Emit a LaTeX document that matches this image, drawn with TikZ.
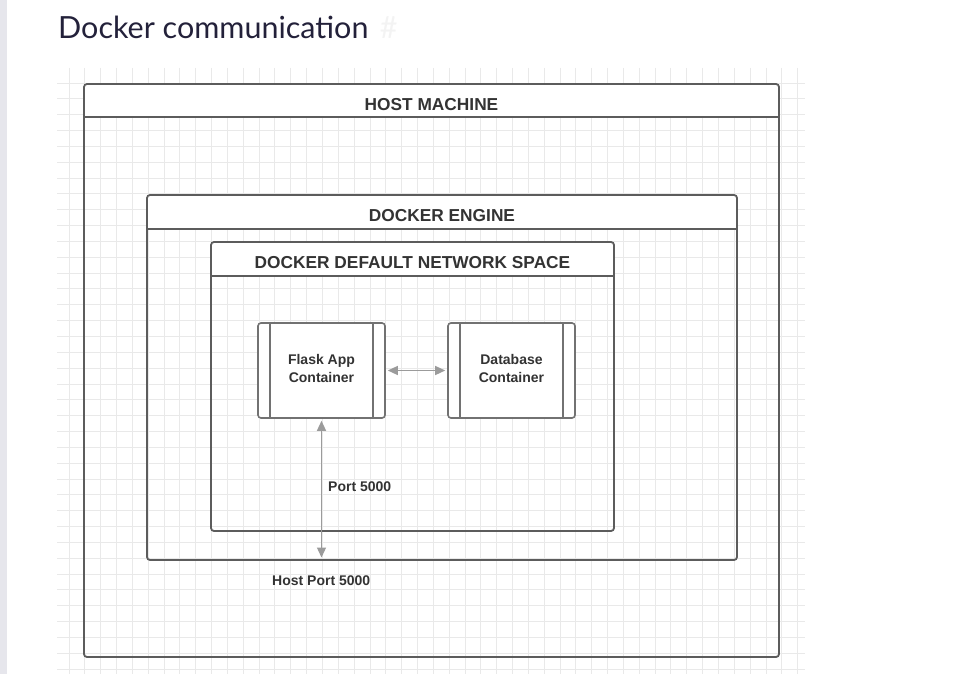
\documentclass[tikz,border=0pt]{standalone}
\usepackage{fontspec}
\setmainfont{Liberation Sans}
\newfontfamily\titlefont{Lato}
\usetikzlibrary{arrows.meta}
\definecolor{gridc}{HTML}{E9E9E9}
\definecolor{boxc}{HTML}{5C5C5C}
\definecolor{cboxc}{HTML}{727272}
\definecolor{txtc}{HTML}{333333}
\definecolor{arrc}{HTML}{9B9B9B}
\definecolor{titlec}{HTML}{23213A}
\definecolor{hashc}{HTML}{F3F3F3}
\definecolor{barc}{HTML}{E6E6EC}
\begin{document}
\begin{tikzpicture}[x=1pt,y=-1pt,
  outerbox/.style={draw=boxc, line width=1.8pt, rounded corners=3pt, inner sep=0pt},
  headline/.style={draw=boxc, line width=1.8pt},
  headtxt/.style={font=\bfseries\fontsize{17.3}{20}\selectfont, text=txtc, inner sep=0pt},
  cbox/.style={draw=cboxc, line width=1.6pt, rounded corners=3pt, fill=white, minimum width=127pt, minimum height=95pt, inner sep=0pt},
  ctxt/.style={align=center, font=\bfseries\fontsize{14}{17.5}\selectfont, text=txtc, inner sep=0pt},
  sideline/.style={draw=cboxc, line width=1.6pt},
  lbl/.style={font=\bfseries\fontsize{14}{16}\selectfont, text=txtc, inner sep=0pt, anchor=west},
  arr/.style={draw=arrc, line width=1.3pt, {Triangle[length=10pt,width=9pt]}-{Triangle[length=10pt,width=9pt]}, arrc},
]
\useasboundingbox (0,0) rectangle (974,674);
\fill[white] (0,0) rectangle (974,674);
\fill[barc] (0,0) rectangle (7,674);
% grid
\foreach \i in {0,...,46} { \draw[gridc, line width=0.9pt] ({69+15.84*\i},68) -- ({69+15.84*\i},674); }
\foreach \j in {0,...,37} { \draw[gridc, line width=0.9pt] (57,{83+15.84*\j}) -- (805,{83+15.84*\j}); }
% title
\node[anchor=base west, font=\titlefont\fontsize{30.5}{34}\selectfont, text=titlec, inner sep=0pt] (title) at (58,39) {Docker communication};
\node[anchor=base west, font=\titlefont\fontsize{30.5}{34}\selectfont, text=hashc, inner sep=0pt] (hash) at ([xshift=11pt]title.base east) {\#};
% host machine
\fill[white] (85,85) rectangle (778,117);
\node[outerbox, minimum width=695pt, minimum height=573pt] (host) at (431.5,370.5) {};
\coordinate (hostl) at (84,117); \coordinate (hostr) at (779,117);
\draw[headline] (hostl) -- (hostr);
\node[headtxt] (hostt) at (431.5,105) {HOST MACHINE};
% docker engine
\fill[white] (148,196) rectangle (736,229);
\node[outerbox, minimum width=590pt, minimum height=365pt] (engine) at (442,377.5) {};
\coordinate (engl) at (147,229); \coordinate (engr) at (737,229);
\draw[headline] (engl) -- (engr);
\node[headtxt] (enginet) at (442,216) {DOCKER ENGINE};
% network
\fill[white] (212,243) rectangle (613,276);
\node[outerbox, minimum width=403pt, minimum height=289pt] (net) at (412.5,386.5) {};
\coordinate (netl) at (211,276); \coordinate (netr) at (614,276);
\draw[headline] (netl) -- (netr);
\node[headtxt] (nett) at (412.5,263) {DOCKER DEFAULT NETWORK SPACE};
% containers
\node[cbox] (flask) at (321.5,370.5) {};
\node[ctxt] (flaskt) at (321.5,368.5) {Flask App\\Container};
\draw[sideline] ([xshift=13pt]flask.north west) -- ([xshift=13pt]flask.south west);
\draw[sideline] ([xshift=-13pt]flask.north east) -- ([xshift=-13pt]flask.south east);
\node[cbox] (db) at (511.5,370.5) {};
\node[ctxt] (dbt) at (511.5,368.5) {Database\\Container};
\draw[sideline] ([xshift=13pt]db.north west) -- ([xshift=13pt]db.south west);
\draw[sideline] ([xshift=-13pt]db.north east) -- ([xshift=-13pt]db.south east);
% arrows
\draw[arr, shorten <=2pt, shorten >=2pt] (flask.east) -- (db.west);
\coordinate (hostport) at (321.5,557.5);
\draw[arr, shorten <=2pt] (flask.south) -- (hostport);
% labels
\node[lbl] (port) at (328,487) {Port 5000};
\node[lbl] (hport) at (272,581) {Host Port 5000};
\end{tikzpicture}
\end{document}
